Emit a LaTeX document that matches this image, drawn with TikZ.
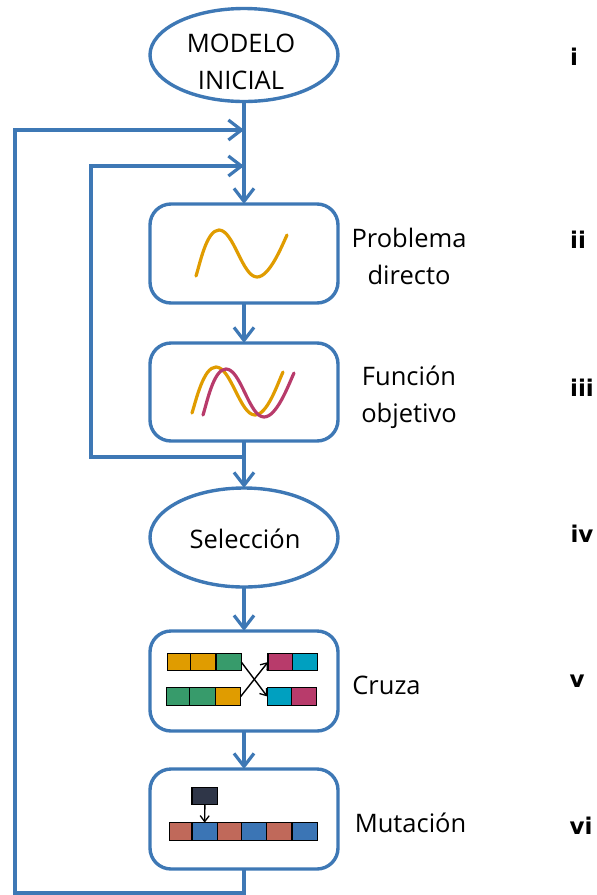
\documentclass[tikz,border=0pt]{standalone}
\usepackage{fontspec}
\setmainfont{Open Sans}
\newfontfamily\numfont{DejaVu Sans}
\usetikzlibrary{shapes.geometric}
\usetikzlibrary{arrows.meta}
\definecolor{c_line}{HTML}{3E78B5}
\definecolor{c_yellow}{HTML}{E09C00}
\definecolor{c_green}{HTML}{379B6B}
\definecolor{c_pink}{HTML}{B83B6B}
\definecolor{c_cyan}{HTML}{00A0C0}
\definecolor{c_red}{HTML}{C0695A}
\definecolor{c_blue}{HTML}{3B75B5}
\definecolor{c_dark}{HTML}{2F3648}
\tikzset{
	oval/.style={ellipse,draw=c_line,line width=3.4pt,minimum width=188pt,inner sep=0pt,outer sep=0pt,align=center},
	stage/.style={rectangle,rounded corners=21pt,draw=c_line,line width=3.4pt,minimum width=188pt,inner sep=0pt,outer sep=0pt},
	flow/.style={c_line,line width=3.4pt,-{Straight Barb[length=13pt,width=20pt,line width=3.2pt]}},
	loop/.style={c_line,line width=3.4pt},
	wave/.style={line width=3.2pt,line cap=round,looseness=0.62},
	cell/.style={rectangle,draw=black,line width=1.2pt,anchor=north west,inner sep=0pt,outer sep=0pt,minimum height=17.5pt},
	swap/.style={black,line width=1.4pt,-{Straight Barb[length=6pt,width=9pt,line width=1.3pt]}},
	label/.style={font=\fontsize{25.5}{37}\selectfont,align=center,inner sep=0pt},
	num/.style={font=\numfont\bfseries\fontsize{23}{26}\selectfont,inner sep=0pt}
}
\begin{document}
\begin{tikzpicture}[x=1pt,y=-1pt]
	\useasboundingbox (0,0) rectangle (597,895);

	\node [oval,minimum height=93pt] (modelo) at (244,55) {};
	\node [stage,minimum height=99pt] (directo) at (244,253.5) {};
	\node [stage,minimum height=98pt] (objetivo) at (244,392) {};
	\node [oval,minimum height=99pt] (seleccion) at (244,537.5) {};
	\node [stage,minimum height=100pt] (cruza) at (244,681) {};
	\node [stage,minimum height=100pt] (mutacion) at (244,819) {};

	% labels
	\node [label] (lmodelo) at (241,62) {MODELO\\INICIAL};
	\node [label] (lseleccion) at (245,538.5) {Selección};
	\node [label] (ldirecto) at (409,256) {Problema\\directo};
	\node [label] (lobjetivo) at (409,397) {Función\\objetivo};
	\node [label] (lcruza) at (386.5,685) {Cruza};
	\node [label] (lmutacion) at (410.5,823) {Mutación};
	\node [num] (ni) at (574,57) {i};
	\node [num] (nii) at (578,240) {ii};
	\node [num] (niii) at (582,388) {iii};
	\node [num] (niv) at (582,534) {iv};
	\node [num] (nv) at (577,681) {v};
	\node [num] (nvi) at (581,826) {vi};

	% flow
	\coordinate (inouter) at (244,130);
	\coordinate (ininner) at (244,166);
	\coordinate (split) at (244,457);
	\coordinate (outerb) at (244,893);
	\coordinate (outerl) at (15,893);
	\coordinate (outert) at (15,130);
	\coordinate (innerb) at (91,457);
	\coordinate (innert) at (91,166);
	\draw [flow] (modelo.south) -- (directo.north);
	\draw [flow] (directo.south) -- (objetivo.north);
	\draw [flow] (objetivo.south) -- (seleccion.north);
	\draw [flow] (seleccion.south) -- (cruza.north);
	\draw [flow] (cruza.south) -- (mutacion.north);
	\draw [loop] (mutacion.south) -- (outerb) -- (outerl) -- (outert) -- (inouter);
	\draw [flow] (outert) -- (inouter);
	\draw [loop] (split) -- (innerb) -- (innert) -- (ininner);
	\draw [flow] (innert) -- (ininner);

	% curves
	\draw [wave,c_yellow] (196,276) to [out=72,in=180] (219,230) to [out=0,in=180] (257,277) to [out=0,in=-115] (287,235);
	\draw [wave,c_yellow] (192,413) to [out=72,in=180] (216,367) to [out=0,in=180] (255,415) to [out=0,in=-115] (283,372);
	\draw [wave,c_pink] (203,415) to [out=72,in=180] (226,369) to [out=0,in=180] (264,417) to [out=0,in=-115] (294,373);

	% crossover
	\node [cell,fill=c_yellow,minimum width=23.5pt] (aa) at (167.3,653.3) {};
	\node [cell,fill=c_yellow,minimum width=25.3pt] (ab) at (190.7,653.3) {};
	\node [cell,fill=c_green,minimum width=25.3pt] (ac) at (216,653.3) {};
	\node [cell,fill=c_green,minimum width=23.4pt] (ba) at (166.3,687.7) {};
	\node [cell,fill=c_green,minimum width=25.6pt] (bb) at (189.7,687.7) {};
	\node [cell,fill=c_yellow,minimum width=25.4pt] (bc) at (215.3,687.7) {};
	\node [cell,fill=c_pink,minimum width=24.3pt] (ca) at (268,653.3) {};
	\node [cell,fill=c_cyan,minimum width=25pt] (cb) at (292.3,653.3) {};
	\node [cell,fill=c_cyan,minimum width=24.4pt] (da) at (267.3,687.7) {};
	\node [cell,fill=c_pink,minimum width=25pt] (db) at (291.7,687.7) {};
	\draw [swap] (ac.east) -- (da.west);
	\draw [swap] (bc.east) -- (ca.west);

	% mutation
	\node [cell,fill=c_dark,minimum width=25.7pt,minimum height=17pt] (gen) at (192,787.7) {};
	\node [cell,fill=c_red,minimum width=22.7pt] (ma) at (169.3,822.7) {};
	\node [cell,fill=c_blue,minimum width=25.3pt] (mb) at (192,822.7) {};
	\node [cell,fill=c_red,minimum width=24pt] (mc) at (217.3,822.7) {};
	\node [cell,fill=c_blue,minimum width=25.4pt] (md) at (241.3,822.7) {};
	\node [cell,fill=c_red,minimum width=25.3pt] (me) at (266.7,822.7) {};
	\node [cell,fill=c_blue,minimum width=25.3pt] (mf) at (292,822.7) {};
	\draw [swap] (gen.south) -- (mb.north);
\end{tikzpicture}
\end{document}
